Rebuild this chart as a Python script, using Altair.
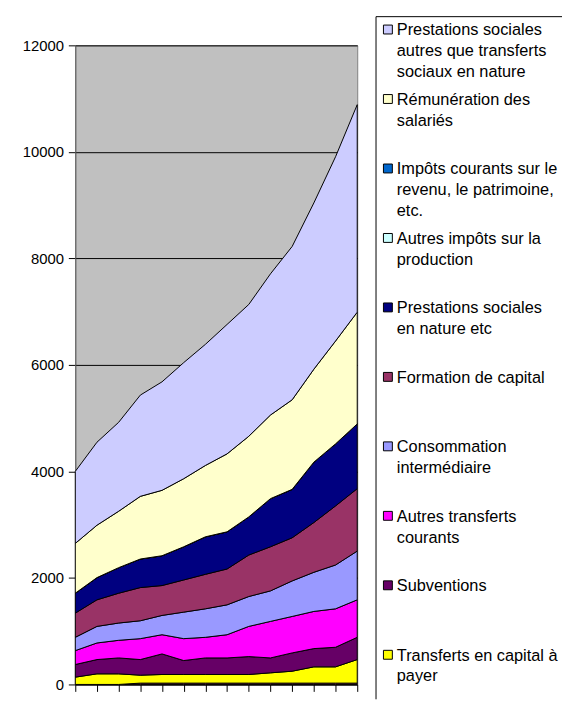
import altair as alt
import pandas as pd

# ---- data ----
periods = list(range(1, 15))

# stack order: bottom -> top
series_names = [
    "Autres",  # thin bottom band, not shown in the legend
    "Transferts en capital à payer",
    "Subventions",
    "Autres transferts courants",
    "Consommation intermédiaire",
    "Formation de capital",
    "Prestations sociales en nature etc",
    "Autres impôts sur la production",
    "Impôts courants sur le revenu, le patrimoine, etc.",
    "Rémunération des salariés",
    "Prestations sociales autres que transferts sociaux en nature",
]

autres = [0, 0, 0, 25, 25, 25, 25, 25, 25, 25, 25, 25, 25, 25]
transferts_capital = [137, 199, 199, 149, 162, 162, 162, 162, 162, 193, 224, 305, 305, 442]
subventions = [237, 268, 299, 293, 386, 262, 311, 311, 336, 280, 343, 343, 368, 418]
autres_transferts = [261, 312, 331, 393, 361, 411, 387, 436, 567, 686, 685, 698, 722, 704]
consommation = [250, 311, 324, 336, 362, 498, 535, 561, 561, 573, 667, 735, 823, 915]
formation = [454, 499, 560, 623, 561, 604, 648, 673, 779, 828, 810, 934, 1109, 1172]
prest_nature = [374, 417, 480, 536, 560, 623, 704, 698, 716, 904, 909, 1134, 1165, 1215]
autres_impots = [0] * 14
impots_courants = [0] * 14
remuneration = [935, 984, 1059, 1177, 1228, 1278, 1340, 1464, 1514, 1570, 1682, 1745, 1931, 2099]
prest_autres = [1352, 1558, 1670, 1901, 2037, 2180, 2274, 2430, 2475, 2651, 2879, 3122, 3460, 3896]

series_values = [
    autres, transferts_capital, subventions, autres_transferts, consommation,
    formation, prest_nature, autres_impots, impots_courants, remuneration, prest_autres,
]

series_colors = [
    "#FF8080", "#FFFF00", "#660066", "#FF00FF", "#9999FF",
    "#993366", "#000080", "#CCFFFF", "#0066CC", "#FFFFCC", "#CCCCFF",
]

legend_labels = {
    "Prestations sociales autres que transferts sociaux en nature":
        "Prestations sociales\nautres que transferts\nsociaux en nature",
    "Rémunération des salariés": "Rémunération des\nsalariés",
    "Impôts courants sur le revenu, le patrimoine, etc.":
        "Impôts courants sur le\nrevenu, le patrimoine,\netc.",
    "Autres impôts sur la production": "Autres impôts sur la\nproduction",
    "Prestations sociales en nature etc": "Prestations sociales\nen nature etc",
    "Formation de capital": "Formation de capital",
    "Consommation intermédiaire": "Consommation\nintermédiaire",
    "Autres transferts courants": "Autres transferts\ncourants",
    "Subventions": "Subventions",
    "Transferts en capital à payer": "Transferts en capital à\npayer",
}

y_ticks = [0, 2000, 4000, 6000, 8000, 10000, 12000]

# ---- tables ----
rows = []
for idx, (name, vals) in enumerate(zip(series_names, series_values)):
    for p, v in zip(periods, vals):
        rows.append({"period": p, "series": name, "value": v, "stack_idx": idx})
df = pd.DataFrame(rows)

legend_order = list(reversed(series_names[1:]))  # top -> bottom as in the legend
legend_df = pd.DataFrame({
    "series": legend_order,
    "label": [legend_labels[n] for n in legend_order],
})

FONT = "Liberation Sans"
color_scale = alt.Scale(domain=series_names, range=series_colors)

# ---- main stacked area chart ----
PLOT_W, PLOT_H = 285, 646
main = alt.Chart(df).mark_area(
    stroke="black", strokeWidth=1, strokeJoin="miter"
).encode(
    x=alt.X(
        "period:Q",
        scale=alt.Scale(domain=[periods[0], periods[-1]], nice=False, zero=False),
        axis=alt.Axis(
            values=periods, labels=False, title=None, grid=False,
            tickSize=7, tickColor="black", domainColor="black",
        ),
    ),
    y=alt.Y(
        "value:Q",
        stack="zero",
        scale=alt.Scale(domain=[0, 12000], nice=False),
        axis=alt.Axis(
            values=y_ticks, format="d", title=None, grid=True,
            gridColor="black", gridOpacity=1, gridWidth=1,
            tickSize=7, tickColor="black", domainColor="#606060",
            labelFont=FONT, labelFontSize=15, labelColor="black",
            labelPadding=5, minExtent=67, maxExtent=67, zindex=0,
        ),
    ),
    color=alt.Color("series:N", scale=color_scale, legend=None),
    order=alt.Order("stack_idx:Q", sort="ascending"),
).properties(
    width=PLOT_W,
    height=PLOT_H,
    view=alt.ViewBackground(fill="#C0C0C0", stroke="#808080"),
)

# ---- custom legend (box starts 29px above the plot top) ----
LEG_W = 188
BOX_TOP = -29
BOX_BOTTOM = 661
leg_y = alt.Y(
    "series:N",
    scale=alt.Scale(type="point", domain=legend_order, range=[-16, 616], padding=0),
    axis=None,
)
leg_color = alt.Color("series:N", scale=color_scale, legend=None)

base_leg = alt.Chart(legend_df)
symbols = base_leg.mark_square(
    size=81, stroke="black", strokeWidth=1, opacity=1
).encode(x=alt.value(12), y=leg_y, color=leg_color)

texts = base_leg.mark_text(
    align="left", baseline="alphabetic", dy=6, font=FONT, fontSize=16.5,
    lineBreak="\n", lineHeight=21, color="black",
).encode(x=alt.value(21), y=leg_y, text="label:N")

frame_df = pd.DataFrame({"k": [0]})
top_line = alt.Chart(frame_df).mark_rule(color="black", strokeWidth=1).encode(
    x=alt.value(0), x2=alt.value(LEG_W), y=alt.value(BOX_TOP)
)
left_line = alt.Chart(frame_df).mark_rule(color="black", strokeWidth=1).encode(
    x=alt.value(0), y=alt.value(BOX_TOP), y2=alt.value(BOX_BOTTOM)
)

legend = alt.layer(top_line, left_line, symbols, texts).properties(
    width=LEG_W, height=PLOT_H,
    view=alt.ViewBackground(stroke="transparent"),
)

chart = alt.hconcat(main, legend, spacing=15).properties(
    padding={"left": 0, "top": 4, "right": 0, "bottom": 0},
    background="white",
)

chart.save("out.html", embed_options={"renderer": "svg", "actions": False})
